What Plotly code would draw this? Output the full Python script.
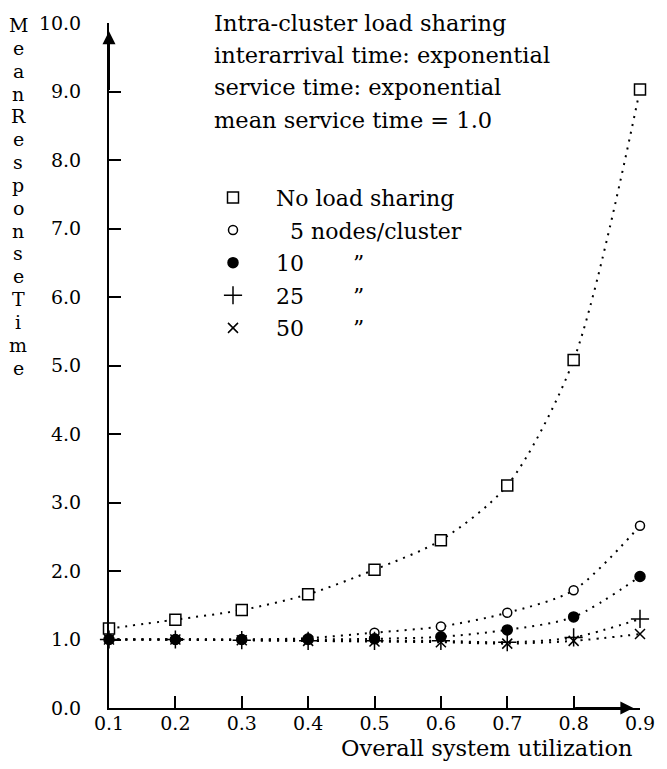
import plotly.graph_objects as go

util = [0.1, 0.2, 0.3, 0.4, 0.5, 0.6, 0.7, 0.8, 0.9]
no_sharing = [1.16, 1.29, 1.43, 1.66, 2.02, 2.45, 3.25, 5.08, 9.03]
nodes5 = [1.0, 1.0, 1.0, 1.02, 1.10, 1.19, 1.39, 1.72, 2.66]
nodes10 = [1.0, 1.0, 1.0, 1.0, 1.01, 1.04, 1.14, 1.33, 1.92]
nodes25 = [1.0, 1.0, 0.99, 0.98, 0.98, 0.98, 0.96, 1.03, 1.30]
nodes50 = [1.0, 1.0, 0.99, 0.98, 0.97, 0.96, 0.94, 0.98, 1.08]

NB = "\u00a0"
series_names = ["No load sharing", NB * 2 + "5 nodes/cluster",
                "10" + NB * 7 + "\u201d",
                "25" + NB * 7 + "\u201d",
                "50" + NB * 7 + "\u201d"]
series_values = [no_sharing, nodes5, nodes10, nodes25, nodes50]
symbols = ["square", "circle", "circle", "cross-thin-open", "x-thin-open"]
fills = ["white", "white", "black", "black", "black"]
sizes = [11, 9, 10, 13, 10]

x_ticks = [0.1, 0.2, 0.3, 0.4, 0.5, 0.6, 0.7, 0.8, 0.9]
y_ticks = [0, 1, 2, 3, 4, 5, 6, 7, 8, 9, 10]

title_lines = ["Intra-cluster load sharing", "interarrival time: exponential",
               "service time: exponential", "mean service time = 1.0"]
y_title = "Mean Response Time"
x_title = "Overall system utilization"

FONT = "DejaVu Serif"
fig = go.Figure()

for i, (name, vals) in enumerate(zip(series_names, series_values)):
    fig.add_trace(go.Scatter(
        x=util, y=vals, mode="lines", showlegend=False,
        line=dict(color="black", width=2, dash="2px,6px", shape="spline", smoothing=0.8),
        cliponaxis=False, hoverinfo="skip"))
for i, (name, vals) in enumerate(zip(series_names, series_values)):
    fig.add_trace(go.Scatter(
        x=util, y=vals, mode="markers", name=name, legendgroup=str(i),
        marker=dict(symbol=symbols[i], size=sizes[i], color=fills[i],
                    line=dict(color="black", width=1.5)),
        cliponaxis=False))

ann = []
# vertical, letter-by-letter y-axis title
letters = [ch for ch in y_title if ch != " "]
for k, ch in enumerate(letters):
    ann.append(dict(text=ch, x=-0.171, xref="paper", y=10 - k / 3 - 0.03, yref="y",
                    xanchor="center", yanchor="middle", showarrow=False,
                    font=dict(family=FONT, size=19, color="black")))
title_y = [10.0, 9.54, 9.06, 8.59]
for t, yy in zip(title_lines, title_y):
    ann.append(dict(text=t, x=0.2552, y=yy, xref="x", yref="y", xanchor="left",
                    yanchor="middle", showarrow=False,
                    font=dict(family=FONT, size=22.5, color="black")))
ann.append(dict(text=x_title, x=0.8925, y=-0.058, xref="x", yref="paper", xanchor="right",
                yanchor="middle", showarrow=False,
                font=dict(family=FONT, size=22.5, color="black")))
ann.append(dict(x=0.1, y=9.88, ax=0.1, ay=9.0, xref="x", yref="y", axref="x", ayref="y",
                text="", showarrow=True, arrowhead=2, arrowsize=1.3, arrowwidth=2,
                arrowcolor="black"))
ann.append(dict(x=0.89, y=0, ax=0.8, ay=0, xref="x", yref="y", axref="x", ayref="y",
                text="", showarrow=True, arrowhead=2, arrowsize=1.3, arrowwidth=2,
                arrowcolor="black"))

fig.update_layout(
    width=667, height=769,
    margin=dict(l=109, r=27, t=17, b=61),
    paper_bgcolor="white", plot_bgcolor="white",
    font=dict(family=FONT, size=19, color="black"),
    showlegend=True,
    legend=dict(x=(190 - 109) / 531, y=(708 - 172) / 691, xanchor="left", yanchor="top",
                bgcolor="rgba(0,0,0,0)", font=dict(family=FONT, size=22),
                traceorder="grouped", tracegroupgap=1, itemwidth=76),
    annotations=ann,
    xaxis=dict(range=[0.1, 0.9], tickvals=x_ticks, tickformat=".1f",
               ticks="inside", ticklen=12, tickwidth=1.5, tickcolor="black",
               showline=True, linewidth=2, linecolor="black", showgrid=False,
               zeroline=False, ticklabelstandoff=-3,
               tickfont=dict(family=FONT, size=19)),
    yaxis=dict(range=[0, 10], tickvals=y_ticks, tickformat=".1f",
               ticks="inside", ticklen=12, tickwidth=1.5, tickcolor="black",
               showline=True, linewidth=2, linecolor="black", showgrid=False,
               zeroline=False, ticklabelstandoff=22,
               tickfont=dict(family=FONT, size=19)),
)

fig.write_html("out.html")
